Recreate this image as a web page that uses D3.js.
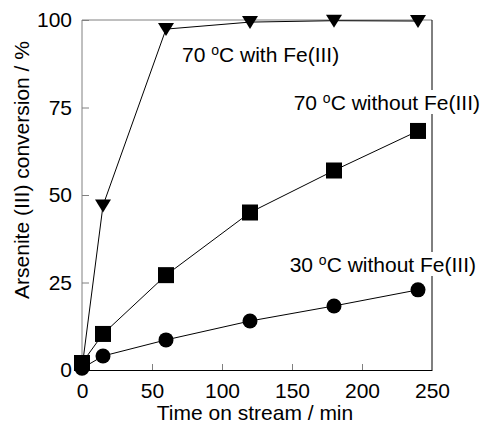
<!DOCTYPE html>
<html>
<head>
<meta charset="utf-8">
<script src="https://cdn.jsdelivr.net/npm/d3@7"></script>
<style>
  body { margin: 0; background: #fff; }
  text { font-family: "Liberation Sans", Arial, sans-serif; fill: #000; }
</style>
</head>
<body>
<div id="chart"></div>
<script>
// time on stream, min
const times = [0, 15, 60, 120, 180, 240]
// arsenite conversion, %
const withFe70 = [0.5, 47, 97.4, 99.4, 99.8, 99.7]
const withoutFe70 = [2, 10.3, 27.1, 45, 57, 68.3]
const withoutFe30 = [0.5, 4, 8.6, 14, 18.3, 22.9]
const xTicks = [0, 50, 100, 150, 200, 250]
const yTicks = [0, 25, 50, 75, 100]

const series = [
  { name: '70', rest: ' with Fe(III)', values: withFe70, marker: 'tri' },
  { name: '70', rest: ' without Fe(III)', values: withoutFe70, marker: 'square' },
  { name: '30', rest: ' without Fe(III)', values: withoutFe30, marker: 'circle' }
]

const width = 483, height = 426
const margin = { top: 20, right: 51, bottom: 56, left: 82 }
const fs = 21

let svg = d3.select('#chart').append('svg')
  .attr('width', width)
  .attr('height', height)

let x = d3.scaleLinear().domain([0, 250]).range([margin.left, width - margin.right])
let y = d3.scaleLinear().domain([0, 100]).range([height - margin.bottom, margin.top])

// frame
svg.append('line')
  .attr('x1', x(0)).attr('x2', x(0)).attr('y1', y(0)).attr('y2', y(100))
  .attr('stroke', '#808080')
svg.append('line')
  .attr('x1', x(0)).attr('x2', x(250)).attr('y1', y(100)).attr('y2', y(100))
  .attr('stroke', '#808080')
svg.append('line')
  .attr('x1', x(250)).attr('x2', x(250)).attr('y1', y(0)).attr('y2', y(100))
  .attr('stroke', '#000')

// axes, ticks pointing inwards
let xAxis = svg.append('g')
  .attr('transform', `translate(0, ${y(0)})`)
  .call(d3.axisBottom(x).tickValues(xTicks).tickSize(-6).tickSizeOuter(0).tickPadding(13))
xAxis.select('.domain').attr('stroke', '#000')
xAxis.selectAll('.tick line').attr('stroke', '#808080')
xAxis.selectAll('.tick text').attr('font-size', fs)
  .attr('font-family', '"Liberation Sans", Arial, sans-serif')

let yAxis = svg.append('g')
  .attr('transform', `translate(${x(0)}, 0)`)
  .call(d3.axisLeft(y).tickValues(yTicks).tickSize(-7).tickSizeOuter(0).tickPadding(10))
yAxis.select('.domain').remove()
yAxis.selectAll('.tick line').attr('stroke', '#808080')
yAxis.selectAll('.tick text').attr('font-size', fs)
  .attr('font-family', '"Liberation Sans", Arial, sans-serif')

svg.append('text')
  .attr('x', 255)
  .attr('y', 420)
  .attr('text-anchor', 'middle')
  .attr('font-size', fs)
  .text('Time on stream / min')

svg.append('text')
  .attr('transform', 'translate(29, 170) rotate(-90)')
  .attr('text-anchor', 'middle')
  .attr('font-size', fs)
  .text('Arsenite (III) conversion / %')

let line = d3.line().x((d, i) => x(times[i])).y(d => y(d))

let drawMarker = (g, type) => {
  if (type === 'circle') {
    g.append('circle').attr('r', 7.5).attr('fill', '#000')
  } else if (type === 'square') {
    g.append('rect').attr('x', -8).attr('y', -8).attr('width', 16).attr('height', 16).attr('fill', '#000')
  } else {
    g.append('path').attr('d', 'M-8,-6L8,-6L0,7Z').attr('fill', '#000')
  }
}

// squares drawn last so they sit on top at t = 0
let order = [0, 2, 1]
order.forEach(k => {
  let s = series[k]
  svg.append('path')
    .datum(s.values)
    .attr('d', line)
    .attr('fill', 'none')
    .attr('stroke', '#000')
    .attr('stroke-width', 1)
  svg.append('g').selectAll('g').data(s.values).enter().append('g')
    .attr('transform', (d, i) => `translate(${x(times[i])}, ${y(d)})`)
    .each(function () { drawMarker(d3.select(this), s.marker) })
})

// labels with white boxes behind them
let labels = [
  { s: series[0], x: 182, y: 62, anchor: 'start' },
  { s: series[1], x: 480, y: 110, anchor: 'end' },
  { s: series[2], x: 476, y: 272, anchor: 'end' }
]
labels.forEach(l => {
  let t = svg.append('text')
    .attr('x', l.x).attr('y', l.y)
    .attr('text-anchor', l.anchor)
    .attr('font-size', fs)
  t.append('tspan').text(l.s.name + ' ')
  t.append('tspan').text('o').attr('font-size', 14).attr('dy', -7)
  t.append('tspan').text('C' + l.s.rest).attr('dy', 7)
  let box = t.node().getBBox()
  svg.insert('rect', () => t.node())
    .attr('x', box.x - 2).attr('y', box.y)
    .attr('width', box.width + 4).attr('height', box.height)
    .attr('fill', '#fff')
})
</script>
</body>
</html>
